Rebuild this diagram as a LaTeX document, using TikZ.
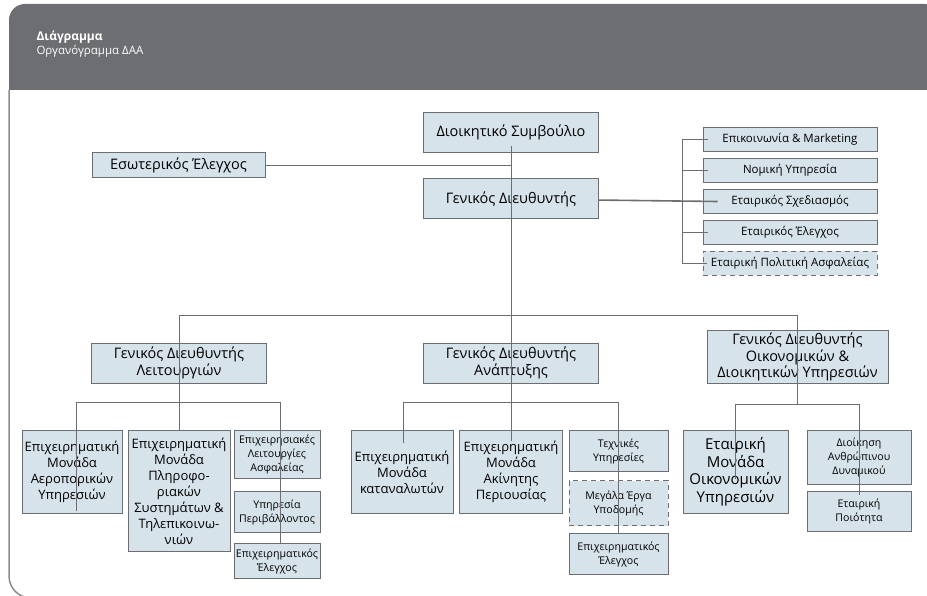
\documentclass[tikz,border=0pt]{standalone}
\usepackage{fontspec}
\setmainfont{Open Sans}
\usetikzlibrary{positioning}
\definecolor{orggray}{HTML}{6D6E71}
\definecolor{orgfill}{HTML}{D7E3EB}
\definecolor{orgframe}{HTML}{8C8C8C}

\begin{document}
\begin{tikzpicture}[
  x=1pt, y=-1pt,
  node distance=6pt,
  orgbox/.style={rectangle, draw=orggray, fill=orgfill, line width=1pt,
                 inner sep=2pt, align=center, text=black},
  headbox/.style={orgbox, minimum width=175pt, minimum height=40pt,
                  font=\fontsize{14.5}{16.5}\selectfont},
  sidebox/.style={orgbox, minimum width=174pt, minimum height=24pt,
                  font=\fontsize{11.5}{13}\selectfont},
  bigbox/.style={orgbox, anchor=north, minimum height=83pt,
                 font=\fontsize{13}{16}\selectfont},
  smallbox/.style={orgbox, minimum width=86pt, inner xsep=0.5pt,
                   font=\fontsize{10.6}{14}\selectfont},
  planned/.style={dash pattern=on 5pt off 4pt},
  link/.style={draw=orggray, line width=1pt}
]
  \useasboundingbox (0,0) rectangle (927,596);

  % frame and header
  \draw[orgframe, line width=1.5pt, rounded corners=22pt]
    (9,90) -- (9,598) -- (940,598);
  \fill[orggray] (9,90) {[rounded corners=16pt] -- (9,4) -- (940,4)}
    -- (940,90) -- cycle;
  \node[anchor=base west, text=white, font=\fontsize{12}{14}\selectfont\bfseries]
    (title) at (33,41) {Διάγραμμα};
  \node[anchor=base west, text=white, font=\fontsize{11.5}{14}\selectfont]
    (subtitle) at (33,55) {Οργανόγραμμα ΔΑΑ};

  % top level
  \node[headbox] (ds) at (511,132.5) {Διοικητικό Συμβούλιο};
  \node[headbox, minimum width=173pt, minimum height=25pt] (ee)
    at (178.5,165.5) {Εσωτερικός Έλεγχος};
  \node[headbox] (gd) at (511,199) {Γενικός Διευθυντής};

  \node[sidebox, anchor=north] (com) at (790,127) {Επικοινωνία \& Marketing};
  \node[sidebox, below=of com] (law) {Νομική Υπηρεσία};
  \node[sidebox, below=of law] (plan) {Εταιρικός Σχεδιασμός};
  \node[sidebox, below=of plan] (ctrl) {Εταιρικός Έλεγχος};
  \node[sidebox, planned, below=of ctrl] (sec) {Εταιρική Πολιτική Ασφαλείας};

  % general directors
  \node[headbox] (gdl) at (179,363) {Γενικός Διευθυντής\\Λειτουργιών};
  \node[headbox] (gda) at (511,363) {Γενικός Διευθυντής\\Ανάπτυξης};
  \node[headbox, minimum width=181pt, minimum height=52pt] (gdo)
    at (797.5,357) {Γενικός Διευθυντής\\Οικονομικών \&\\Διοικητικών Υπηρεσιών};

  % operations
  \node[bigbox, minimum width=100pt] (aer) at (72,430)
    {Επιχειρηματική\\Μονάδα\\Αεροπορικών\\Υπηρεσιών};
  \node[bigbox, minimum width=102pt, minimum height=121pt] (it) at (179,430)
    {Επιχειρηματική\\Μονάδα\\Πληροφο-\\ριακών\\Συστημάτων \&\\Τηλεπικοινω-\\νιών};
  \node[smallbox, anchor=north, minimum height=48pt] (asf) at (277,430)
    {Επιχειρησιακές\\Λειτουργίες\\Ασφαλείας};
  \node[smallbox, minimum height=41pt, below=12pt of asf] (env)
    {Υπηρεσία\\Περιβάλλοντος};
  \node[smallbox, minimum height=35pt, below=10pt of env] (bctl)
    {Επιχειρηματικός\\Έλεγχος};

  % development
  \node[bigbox, minimum width=102pt] (cons) at (402,430)
    {Επιχειρηματική\\Μονάδα\\καταναλωτών};
  \node[bigbox, minimum width=103pt] (re) at (511,430)
    {Επιχειρηματική\\Μονάδα\\Ακίνητης\\Περιουσίας};
  \node[smallbox, anchor=north, minimum width=99pt, minimum height=41pt] (tech)
    at (618.5,430) {Τεχνικές\\Υπηρεσίες};
  \node[smallbox, planned, minimum width=99pt, minimum height=45pt,
        below=8pt of tech] (infra) {Μεγάλα Έργα\\Υποδομής};
  \node[smallbox, minimum width=99pt, minimum height=41pt,
        below=7pt of infra] (bctl2) {Επιχειρηματικός\\Έλεγχος};

  % finance
  \node[bigbox, minimum width=105pt, font=\fontsize{15}{17.5}\selectfont] (fin)
    at (735.5,430) {Εταιρική\\Μονάδα\\Οικονομικών\\Υπηρεσιών};
  \node[smallbox, anchor=north, minimum width=104pt, minimum height=54pt] (hr)
    at (859,430) {Διοίκηση\\Ανθρώπινου\\Δυναμικού};
  \node[smallbox, minimum width=104pt, minimum height=40pt,
        below=6pt of hr] (qual) {Εταιρική\\Ποιότητα};

  % connectors
  \coordinate (mainbus) at (0,316);
  \coordinate (opsbus) at (0,402);
  \coordinate (devbus) at (0,402);
  \coordinate (finbus) at (0,404);

  \draw[link] ([yshift=-14pt]ds.center) -- ([yshift=-11pt]re.north);
  \draw[link] (ee) -- (ee -| ds);
  \draw[link, line width=1.6pt] (gd) -- ([xshift=15pt]plan.west);
  \draw[link] ([xshift=5pt]com.west) -- ++(-25,0) |- ([xshift=4pt]sec.west);
  \foreach \unit in {law, ctrl}
    \draw[link] ([xshift=5pt]\unit.west) -- ++(-25,0);

  \draw[link] (it.north) -- (it.north |- mainbus) -| (gdo.center |- finbus);
  \draw[link] ([xshift=4pt, yshift=3pt]aer.south)
    |- ([xshift=3pt]asf.north |- opsbus) -- ([xshift=3pt]bctl.north);
  \draw[link] ([xshift=1pt, yshift=-13pt]cons.north)
    |- (tech.north |- devbus) -- (bctl2.north);
  \draw[link] ([yshift=-49pt]fin.north)
    |- (hr.north |- finbus) -- ([yshift=-4pt]qual.north);
\end{tikzpicture}
\end{document}
